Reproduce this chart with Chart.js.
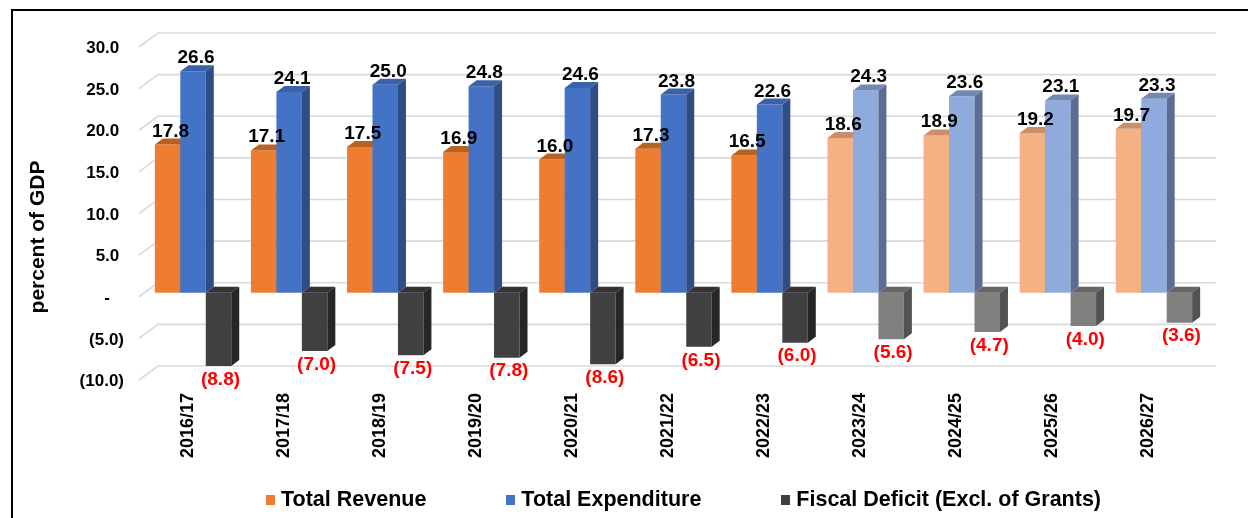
<!DOCTYPE html>
<html lang="en">
<head>
  <meta charset="UTF-8">
  <title>Revenue, Expenditure and Fiscal Deficit</title>
  <script src="https://cdn.jsdelivr.net/npm/chart.js"></script>
  <style>
    body {
      margin: 0;
      background: white;
      font-family: "Liberation Sans", Arial, sans-serif;
    }
    #wrap {
      position: relative;
      width: 1248px;
      height: 518px;
      overflow: hidden;
    }
    #frame {
      position: absolute;
      left: 11px;
      top: 9px;
      width: 1300px;
      height: 600px;
      border-left: 2px solid #000;
      border-top: 2px solid #000;
    }
    #legend {
      position: absolute;
      left: 266px;
      top: 487px;
      display: flex;
      gap: 80px;
      font-weight: bold;
      font-size: 21.5px;
      color: #000;
    }
    #legend span.item { display: flex; align-items: center; }
    #legend i {
      display: inline-block;
      width: 9px;
      height: 10px;
      margin-right: 6px;
    }
  </style>
</head>
<body>
  <div id="wrap">
    <div id="frame"></div>
    <canvas id="chart"></canvas>
    <div id="legend"></div>
  </div>

  <script>
    const years = ['2016/17', '2017/18', '2018/19', '2019/20', '2020/21', '2021/22', '2022/23',
                   '2023/24', '2024/25', '2025/26', '2026/27'];
    const revenue     = [17.8, 17.1, 17.5, 16.9, 16.0, 17.3, 16.5, 18.6, 18.9, 19.2, 19.7];
    const expenditure = [26.6, 24.1, 25.0, 24.8, 24.6, 23.8, 22.6, 24.3, 23.6, 23.1, 23.3];
    const deficit     = [-8.8, -7.0, -7.5, -7.8, -8.6, -6.5, -6.0, -5.6, -4.7, -4.0, -3.6];
    const seriesNames = ['Total Revenue', 'Total Expenditure', 'Fiscal Deficit (Excl. of Grants)'];
    const firstProjection = 7; // 2023/24 onwards drawn lighter

    // front / top / side colours, actual then projected
    const palette = [
      { front: ['#ED7D31', '#F4B183'], top: ['#B9621F', '#C98F6B'], side: ['#A9561A', '#B5805F'] },
      { front: ['#4472C4', '#8FAADC'], top: ['#3A62A8', '#7088B2'], side: ['#2F4D85', '#5B6D92'] },
      { front: ['#404040', '#7F7F7F'], top: ['#333333', '#666666'], side: ['#262626', '#525252'] }
    ];
    const DX = 8, DY = -6;          // bar depth
    const WALL_DX = 19, WALL_DY = -10; // back wall offset for grid
    const FONT = '"Liberation Sans", Arial, sans-serif';

    const pick = (arr, i) => arr[i >= firstProjection ? 1 : 0];

    const gridPlugin = {
      id: 'grid3d',
      beforeDatasetsDraw(chart) {
        const { ctx, chartArea } = chart;
        const ys = chart.scales.y;
        ctx.save();
        ctx.strokeStyle = '#D9D9D9';
        ctx.lineWidth = 1.6;
        ys.ticks.forEach(t => {
          const y = ys.getPixelForValue(t.value);
          const x0 = chartArea.left - 6;
          ctx.beginPath();
          ctx.moveTo(x0, y + 4);
          ctx.lineTo(x0 + WALL_DX, y + WALL_DY);
          ctx.lineTo(chartArea.right + 14, y + WALL_DY);
          ctx.stroke();
        });
        ctx.restore();
      }
    };

    // bars are drawn here, left series first, so each front face hides
    // the side of the bar to its left
    const depthPlugin = {
      id: 'depth',
      beforeDatasetDraw() { return false; },
      afterDatasetsDraw(chart) {
        const { ctx } = chart;
        ctx.save();
        chart.data.datasets.forEach((ds, k) => {
          const col = palette[k];
          chart.getDatasetMeta(k).data.forEach((bar, i) => {
            bar.draw(ctx, chart.chartArea);
            const l = bar.x - bar.width / 2, r = bar.x + bar.width / 2;
            const top = Math.min(bar.y, bar.base), bottom = Math.max(bar.y, bar.base);
            ctx.fillStyle = pick(col.top, i);
            ctx.beginPath();
            ctx.moveTo(l, top); ctx.lineTo(r, top);
            ctx.lineTo(r + DX, top + DY); ctx.lineTo(l + DX, top + DY);
            ctx.closePath(); ctx.fill();
            ctx.fillStyle = pick(col.side, i);
            ctx.beginPath();
            ctx.moveTo(r, top); ctx.lineTo(r + DX, top + DY);
            ctx.lineTo(r + DX, bottom + DY); ctx.lineTo(r, bottom);
            ctx.closePath(); ctx.fill();
          });
        });
        ctx.restore();
      }
    };

    const labelPlugin = {
      id: 'valueLabels',
      afterDatasetsDraw(chart) {
        const { ctx } = chart;
        ctx.save();
        ctx.font = 'bold 19px ' + FONT;
        ctx.textAlign = 'center';
        chart.data.datasets.forEach((ds, di) => {
          chart.getDatasetMeta(di).data.forEach((bar, i) => {
            const v = ds.data[i];
            if (v >= 0) {
              ctx.fillStyle = '#000';
              ctx.textBaseline = 'alphabetic';
              ctx.fillText(v.toFixed(1), bar.x + 3, bar.y - 8);
            } else {
              ctx.fillStyle = '#FF0000';
              ctx.textBaseline = 'top';
              ctx.fillText('(' + (-v).toFixed(1) + ')', bar.x + 2, bar.y + 4);
            }
          });
        });
        // axis title
        ctx.translate(38, 237);
        ctx.rotate(-Math.PI / 2);
        ctx.font = 'bold 21px ' + FONT;
        ctx.fillStyle = '#000';
        ctx.textBaseline = 'middle';
        ctx.fillText('percent of GDP', 0, 0);
        ctx.restore();
      }
    };

    const makeSet = (k, data) => ({
      label: seriesNames[k],
      data,
      backgroundColor: c => pick(palette[k].front, c.dataIndex),
      borderWidth: 0,
      categoryPercentage: 0.795,
      barPercentage: 1.0
    });

    new Chart(document.getElementById('chart'), {
      type: 'bar',
      data: {
        labels: years,
        datasets: [makeSet(0, revenue), makeSet(1, expenditure), makeSet(2, deficit)]
      },
      options: {
        responsive: true,
        maintainAspectRatio: false,
        animation: false,
        layout: { padding: { left: 0, right: 46, top: 43, bottom: 42 } },
        plugins: { legend: { display: false }, tooltip: { enabled: false } },
        scales: {
          x: {
            grid: { display: false, drawTicks: false },
            border: { display: false },
            ticks: {
              autoSkip: false, maxRotation: 90, minRotation: 90,
              padding: 17, labelOffset: -5.5,
              color: '#000', font: { family: FONT, size: 18, weight: 'bold' }
            },
            afterFit: s => { s.height = 100; }
          },
          y: {
            min: -10, max: 30,
            grid: { display: false, drawTicks: false },
            border: { display: false },
            ticks: {
              stepSize: 5, padding: 21, labelOffset: 5.5,
              color: '#000', font: { family: FONT, size: 17, weight: 'bold' },
              callback: v => v > 0 ? v.toFixed(1) + ' ' : (v < 0 ? '(' + (-v).toFixed(1) + ')' : '-   ')
            },
            afterFit: s => { s.width = 145; }
          }
        }
      },
      plugins: [gridPlugin, depthPlugin, labelPlugin]
    });

    const legend = document.getElementById('legend');
    seriesNames.forEach((name, k) => {
      const item = document.createElement('span');
      item.className = 'item';
      item.innerHTML = `<i style="background:${palette[k].front[0]}"></i>${name}`;
      legend.appendChild(item);
    });
  </script>
</body>
</html>
